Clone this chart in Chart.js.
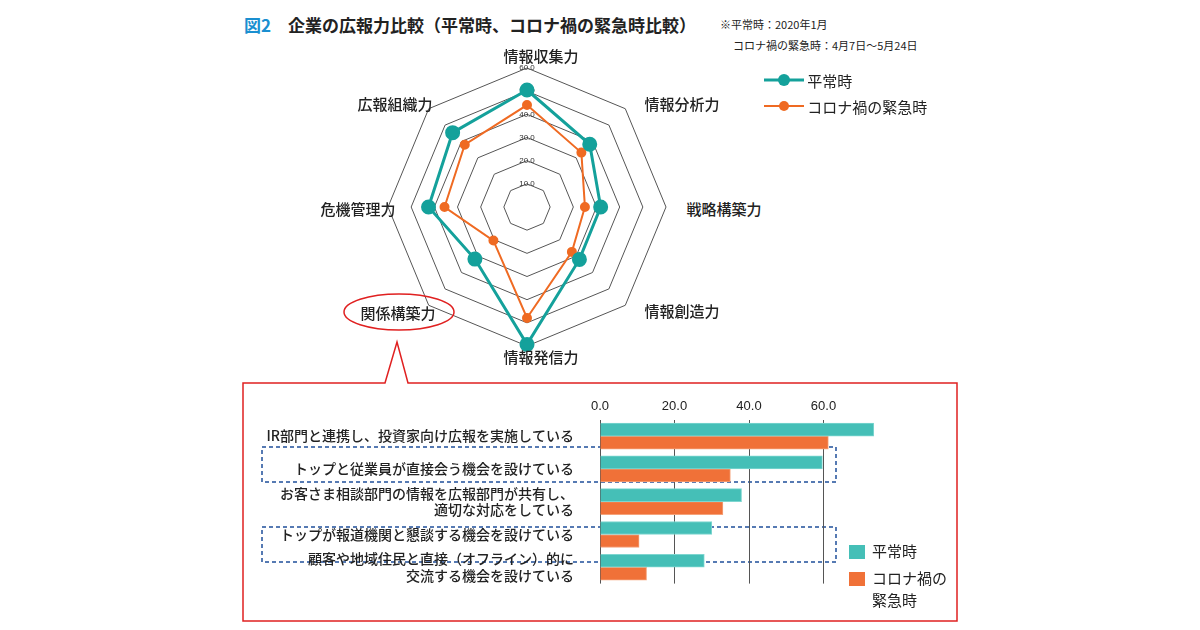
<!DOCTYPE html>
<html><head><meta charset="utf-8">
<script src="https://cdn.jsdelivr.net/npm/chart.js@4"></script>
<style>
body{margin:0;width:1200px;height:630px;background:#fff;position:relative;overflow:hidden;font-family:"Noto Sans CJK JP",sans-serif;color:#222}
.a{position:absolute;white-space:nowrap}
.pl{position:absolute;font-size:15px;font-weight:500;transform:translate(-50%,-50%)}
</style></head><body>
<div class="a" style="left:244px;top:12px;font-size:17px;font-weight:bold"><span style="color:#1a8fd0">図2</span>　企業の広報力比較（平常時、コロナ禍の緊急時比較）</div>
<div class="a" style="left:720px;top:16px;font-size:11px">※平常時：2020年1月</div>
<div class="a" style="left:733px;top:37px;font-size:11px">コロナ禍の緊急時：4月7日～5月24日</div>

<canvas id="radar" class="a" style="left:382px;top:62px"></canvas>
<div id="labels"></div>

<div class="a" style="left:764px;top:68px;font-size:15px;line-height:26px">
<div><svg width="40" height="14"><line x1="0" y1="7" x2="40" y2="7" stroke="#14a19b" stroke-width="3"/><circle cx="20" cy="7" r="6" fill="#14a19b"/></svg> 平常時</div>
<div><svg width="40" height="14"><line x1="0" y1="7" x2="40" y2="7" stroke="#ef6a22" stroke-width="2"/><circle cx="20" cy="7" r="5" fill="#ef6a22"/></svg> コロナ禍の緊急時</div>
</div>

<svg class="a" style="left:0;top:0" width="1200" height="630">
<ellipse cx="399" cy="312" rx="55" ry="18" fill="none" stroke="#e02020" stroke-width="1.5"/>
<path d="M243 383 H385 L397 342 L408 383 H957 V621 H243 Z" fill="none" stroke="#e02020" stroke-width="1.5"/>
<rect x="262" y="447" width="574" height="35" fill="none" stroke="#1f4f9a" stroke-width="1.5" stroke-dasharray="4,3"/>
<rect x="262" y="527" width="574" height="35" fill="none" stroke="#1f4f9a" stroke-width="1.5" stroke-dasharray="4,3"/>
<rect x="849" y="545" width="16" height="14" fill="#45bfb7"/>
<rect x="849" y="572" width="16" height="14" fill="#f07138"/>
</svg>
<div class="a" style="left:872px;top:540px;font-size:15px">平常時</div>
<div class="a" style="left:872px;top:567px;font-size:15px;line-height:22px">コロナ禍の<br>緊急時</div>

<canvas id="bar" class="a" style="left:250px;top:385px"></canvas>

<script>
const radarAxes = ['情報収集力','情報分析力','戦略構築力','情報創造力','情報発信力','関係構築力','危機管理力','広報組織力'];
const radarNormal = [50.5, 38.3, 31.8, 32, 59.3, 31.8, 42.5, 45.4];
const radarCrisis = [44, 33.2, 25, 27.4, 47.9, 20.5, 35.6, 38];
const radarTicks = [0, 10, 20, 30, 40, 50, 60];

const barLabels = [
    'IR部門と連携し、投資家向け広報を実施している',
    'トップと従業員が直接会う機会を設けている',
    ['お客さま相談部門の情報を広報部門が共有し、', '適切な対応をしている'],
    'トップが報道機関と懇談する機会を設けている',
    ['顧客や地域住民と直接（オフライン）的に', '交流する機会を設けている']
];
const barNormal = [73.5, 59.7, 38, 30, 28];
const barCrisis = [61.3, 35, 33, 10.5, 12.5];
const barTicks = [0, 20, 40, 60];

// point labels placed by hand around the web
const labelPos = [[541,55],[682,103],[724,208],[682,310],[541,356],[398,312],[358,208],[395,103]];
document.getElementById('labels').innerHTML = radarAxes.map((t, i) =>
    `<div class="pl" style="left:${labelPos[i][0]}px;top:${labelPos[i][1]}px">${t}</div>`).join('');

const rc = document.getElementById('radar');
rc.width = 290; rc.height = 290;
new Chart(rc, {
    type: 'radar',
    data: {
        labels: radarAxes,
        datasets: [
            {data: radarNormal, borderColor: '#14a19b', backgroundColor: '#14a19b', borderWidth: 3, pointRadius: 6, fill: false},
            {data: radarCrisis, borderColor: '#ef6a22', backgroundColor: '#ef6a22', borderWidth: 2, pointRadius: 4, fill: false}
        ]
    },
    options: {
        responsive: false, animation: false,
        plugins: {legend: {display: false}, tooltip: {enabled: false}},
        scales: {
            r: {
                min: 0, max: 60,
                afterBuildTicks: s => { s.ticks = radarTicks.map(v => ({value: v})); },
                ticks: {showLabelBackdrop: false, font: {size: 8}, color: '#333', callback: v => v.toFixed(1)},
                grid: {color: '#555', lineWidth: 1},
                angleLines: {display: false},
                pointLabels: {display: false}
            }
        }
    }
});

const bc = document.getElementById('bar');
bc.width = 700; bc.height = 225;
new Chart(bc, {
    type: 'bar',
    data: {
        labels: barLabels,
        datasets: [
            {data: barNormal, backgroundColor: '#45bfb7', borderColor: '#7ed6d0', borderWidth: 1, barThickness: 13},
            {data: barCrisis, backgroundColor: '#f07138', borderColor: '#f5a27a', borderWidth: 1, barThickness: 13}
        ]
    },
    options: {
        indexAxis: 'y', responsive: false, animation: false,
        layout: {padding: {right: 52, bottom: 5}},
        plugins: {legend: {display: false}, tooltip: {enabled: false}},
        datasets: {bar: {categoryPercentage: 0.8, barPercentage: 1}},
        scales: {
            x: {
                position: 'top', min: 0, max: 80,
                afterBuildTicks: s => { s.ticks = barTicks.map(v => ({value: v})); },
                border: {display: false},
                grid: {color: '#555', drawTicks: false},
                ticks: {font: {size: 13}, color: '#222', padding: 6, callback: v => v.toFixed(1)}
            },
            y: {
                afterFit: s => { s.width = 350; },
                grid: {display: false},
                border: {display: false},
                ticks: {font: {size: 14, weight: '500', family: '"Noto Sans CJK JP"'}, color: '#222', padding: 18}
            }
        }
    }
});
</script>
</body></html>
